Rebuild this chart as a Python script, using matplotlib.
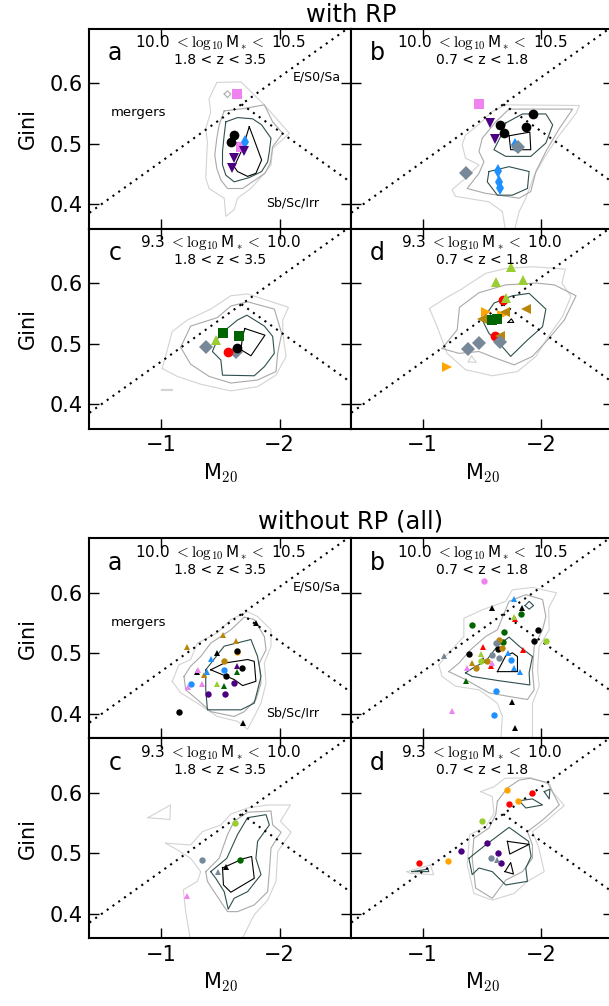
import matplotlib.pyplot as plt

plt.rcParams['mathtext.fontset'] = 'cm'
plt.rcParams['font.family'] = 'DejaVu Sans'

group_titles = ['with RP', 'without RP (all)']
panel_letters = ['a', 'b', 'c', 'd']
mass_bins = [('10.0', '10.5'), ('10.0', '10.5'), ('9.3', '10.0'), ('9.3', '10.0')]
z_bins = [('1.8', '3.5'), ('0.7', '1.8'), ('1.8', '3.5'), ('0.7', '1.8')]
x_ticks = [-1, -2]
y_ticks = [0.4, 0.5, 0.6]

# Lotz et al. lines, G = slope * M20 + icpt
merger_line = (-0.14, 0.33)
early_line = (0.14, 0.80)

# ---------------- with RP ----------------
# contour loops for the 4 levels (outer -> inner), (M20, Gini)
rp_a_light = [[(-1.471, 0.601), (-1.674, 0.602), (-1.871, 0.564), (-2.082, 0.517), (-1.941, 0.492),
               (-1.927, 0.465), (-1.871, 0.451), (-1.758, 0.426), (-1.645, 0.410), (-1.617, 0.391),
               (-1.547, 0.380), (-1.533, 0.410), (-1.406, 0.426), (-1.378, 0.443), (-1.392, 0.503),
               (-1.378, 0.525), (-1.420, 0.552), (-1.406, 0.574)]]
rp_a_gray = [[(-1.533, 0.554), (-1.702, 0.558), (-1.871, 0.564), (-1.941, 0.536), (-2.026, 0.517),
              (-1.941, 0.495), (-1.921, 0.468), (-1.876, 0.451), (-1.786, 0.439), (-1.688, 0.426),
              (-1.561, 0.426), (-1.505, 0.440), (-1.471, 0.459), (-1.454, 0.481), (-1.471, 0.509),
              (-1.491, 0.531)],
             [(-1.533, 0.582), (-1.561, 0.587), (-1.589, 0.582), (-1.561, 0.576)]]
rp_a_dark = [[(-1.547, 0.536), (-1.645, 0.543), (-1.772, 0.541), (-1.848, 0.531), (-1.927, 0.509),
              (-1.913, 0.487), (-1.899, 0.470), (-1.848, 0.454), (-1.744, 0.444), (-1.617, 0.437),
              (-1.547, 0.448), (-1.519, 0.465), (-1.519, 0.487), (-1.533, 0.514)]]
rp_a_black = [[(-1.744, 0.528), (-1.786, 0.506), (-1.848, 0.473), (-1.800, 0.451), (-1.730, 0.446),
               (-1.645, 0.454), (-1.617, 0.462), (-1.688, 0.492)]]
rp_a_pts = [('vi_sq', -1.64, 0.582), ('vi_sq', -1.674, 0.494), ('k_o', -1.617, 0.514),
            ('k_o', -1.589, 0.502), ('db_d', -1.71, 0.502), ('in_v', -1.696, 0.488),
            ('in_v', -1.612, 0.476), ('in_v', -1.595, 0.460)]

rp_b_light = [[(-1.699, 0.564), (-2.319, 0.563), (-2.291, 0.550), (-2.150, 0.514), (-2.037, 0.481),
               (-1.939, 0.448), (-1.868, 0.410), (-1.812, 0.388), (-1.770, 0.355), (-1.699, 0.355),
               (-1.671, 0.388), (-1.558, 0.404), (-1.277, 0.413), (-1.248, 0.424), (-1.361, 0.443),
               (-1.474, 0.465), (-1.361, 0.476), (-1.333, 0.498), (-1.361, 0.514), (-1.474, 0.532),
               (-1.586, 0.553)]]
rp_b_gray = [[(-1.727, 0.557), (-2.262, 0.557), (-2.150, 0.525), (-2.037, 0.487), (-1.953, 0.454),
              (-1.910, 0.421), (-1.812, 0.410), (-1.530, 0.418), (-1.375, 0.426), (-1.474, 0.451),
              (-1.516, 0.470), (-1.474, 0.487), (-1.502, 0.509), (-1.615, 0.536)]]
rp_b_dark = [[(-1.699, 0.534), (-1.840, 0.549), (-2.037, 0.549), (-2.094, 0.531), (-2.037, 0.501),
              (-1.910, 0.479), (-1.699, 0.479), (-1.600, 0.490), (-1.657, 0.512)],
             [(-1.558, 0.454), (-1.727, 0.462), (-1.896, 0.454), (-1.882, 0.426), (-1.755, 0.415),
              (-1.629, 0.415), (-1.544, 0.437)]]
rp_b_black = [[(-1.727, 0.513), (-1.902, 0.519), (-1.910, 0.490), (-1.741, 0.490)]]
rp_b_pts = [('vi_sq', -1.474, 0.565), ('k_o', -1.93, 0.549), ('k_o', -1.648, 0.531),
            ('k_o', -1.868, 0.528), ('k_o', -1.685, 0.517), ('in_v', -1.564, 0.534),
            ('in_v', -1.609, 0.508), ('db_d', -1.778, 0.497), ('db_d', -1.637, 0.455),
            ('db_d', -1.645, 0.437), ('db_d', -1.648, 0.427), ('sg_D', -1.806, 0.495),
            ('sg_D', -1.361, 0.451)]

rp_c_light = [[(-1.012, 0.459), (-1.096, 0.520), (-1.223, 0.539), (-1.420, 0.557), (-1.589, 0.579),
               (-1.730, 0.582), (-2.074, 0.560), (-2.026, 0.539), (-2.026, 0.517), (-2.054, 0.479),
               (-1.969, 0.448), (-1.814, 0.429), (-1.589, 0.422), (-1.336, 0.433), (-1.138, 0.446)],
              [(-0.998, 0.425), (-1.096, 0.425), (-1.096, 0.424), (-0.998, 0.424)]]
rp_c_gray = [[(-1.167, 0.494), (-1.251, 0.529), (-1.476, 0.543), (-1.589, 0.562), (-1.730, 0.569),
              (-1.955, 0.557), (-2.017, 0.517), (-1.983, 0.484), (-1.969, 0.454), (-1.814, 0.440),
              (-1.589, 0.435), (-1.406, 0.446), (-1.251, 0.466)]]
rp_c_dark = [[(-1.491, 0.514), (-1.645, 0.539), (-1.724, 0.547), (-1.871, 0.529), (-1.941, 0.512),
              (-1.955, 0.484), (-1.871, 0.462), (-1.786, 0.447), (-1.519, 0.448), (-1.505, 0.473),
              (-1.434, 0.487)]]
rp_c_black = [[(-1.707, 0.525), (-1.876, 0.514), (-1.758, 0.480), (-1.674, 0.490), (-1.688, 0.512)]]
rp_c_pts = [('dg_sq', -1.519, 0.517), ('dg_sq', -1.654, 0.513), ('yg_^', -1.462, 0.506),
            ('sg_D', -1.378, 0.495), ('sg_D', -1.631, 0.487), ('r_o', -1.561, 0.487),
            ('k_o', -1.637, 0.493)]

rp_d_light = [[(-1.057, 0.558), (-1.192, 0.575), (-1.319, 0.589), (-1.530, 0.616), (-1.699, 0.624),
               (-1.924, 0.627), (-2.200, 0.623), (-2.172, 0.600), (-2.248, 0.578), (-2.178, 0.545),
               (-2.065, 0.514), (-1.953, 0.479), (-1.798, 0.454), (-1.586, 0.447), (-1.361, 0.457),
               (-1.206, 0.484), (-1.122, 0.528)],
              [(-1.384, 0.470), (-1.412, 0.480), (-1.451, 0.469)]]
rp_d_gray = [[(-1.164, 0.492), (-1.291, 0.523), (-1.310, 0.560), (-1.474, 0.584), (-1.699, 0.597),
              (-1.953, 0.600), (-2.108, 0.597), (-2.291, 0.579), (-2.192, 0.539), (-2.051, 0.506),
              (-1.924, 0.479), (-1.770, 0.465), (-1.615, 0.476), (-1.474, 0.487), (-1.305, 0.484)]]
rp_d_dark = [[(-1.502, 0.539), (-1.601, 0.567), (-1.755, 0.579), (-1.896, 0.583), (-2.037, 0.557),
              (-2.009, 0.528), (-1.882, 0.506), (-1.741, 0.479), (-1.643, 0.501), (-1.558, 0.517)]]
rp_d_black = [[(-1.719, 0.535), (-1.747, 0.541), (-1.767, 0.535)]]
rp_d_pts = [('yg_^', -1.741, 0.627), ('yg_^', -1.62, 0.602), ('yg_^', -1.848, 0.605),
            ('r_o', -1.677, 0.572), ('yg_^', -1.699, 0.575), ('r_o', -1.606, 0.512),
            ('or_>', -1.53, 0.553), ('or_>', -1.665, 0.548), ('or_>', -1.206, 0.461),
            ('gd_<', -1.693, 0.553), ('gd_<', -1.868, 0.558), ('gd_<', -1.502, 0.540),
            ('gd_<', -1.648, 0.513), ('dg_sq', -1.586, 0.539), ('dg_sq', -1.629, 0.540),
            ('sg_D', -1.474, 0.501), ('sg_D', -1.384, 0.491), ('sg_D', -1.648, 0.503)]

# ---------------- without RP (all) ----------------
all_a_light = [[(-1.096, 0.454), (-1.152, 0.481), (-1.251, 0.490), (-1.307, 0.517), (-1.476, 0.534),
                (-1.589, 0.556), (-1.730, 0.569), (-1.814, 0.561), (-1.927, 0.539), (-1.927, 0.512),
                (-1.871, 0.484), (-1.885, 0.451), (-1.843, 0.418), (-1.786, 0.396), (-1.730, 0.375),
                (-1.645, 0.388), (-1.476, 0.396), (-1.307, 0.418), (-1.167, 0.435)]]
all_a_gray = [[(-1.195, 0.462), (-1.251, 0.479), (-1.336, 0.495), (-1.420, 0.517), (-1.589, 0.539),
               (-1.702, 0.560), (-1.786, 0.556), (-1.871, 0.528), (-1.885, 0.506), (-1.828, 0.484),
               (-1.843, 0.451), (-1.800, 0.424), (-1.702, 0.404), (-1.617, 0.396), (-1.420, 0.404),
               (-1.307, 0.424), (-1.209, 0.440)]]
all_a_dark = [[(-1.378, 0.473), (-1.533, 0.512), (-1.758, 0.523), (-1.814, 0.495), (-1.843, 0.462),
               (-1.786, 0.418), (-1.674, 0.407), (-1.392, 0.407), (-1.378, 0.440)]]
all_a_black = [[(-1.420, 0.473), (-1.533, 0.484), (-1.730, 0.490), (-1.786, 0.487), (-1.800, 0.454),
                (-1.688, 0.447), (-1.617, 0.457)]]
all_a_pts = [('gd_^', -1.223, 0.510), ('gd_^', -1.519, 0.531), ('gd_^', -1.631, 0.520),
             ('gd_^', -1.364, 0.465), ('gd_o', -1.533, 0.488), ('or_o', -1.637, 0.502),
             ('k_o', -1.640, 0.504), ('k_^', -1.80, 0.551), ('k_^', -1.476, 0.501),
             ('k_^', -1.307, 0.470), ('k_^', -1.688, 0.386), ('k_o', -1.679, 0.476),
             ('k_o', -1.547, 0.462), ('k_o', -1.152, 0.403), ('db_^', -1.420, 0.491),
             ('db_^', -1.392, 0.470), ('db_o', -1.251, 0.450), ('db_o', -1.533, 0.473),
             ('vi_^', -1.313, 0.473), ('vi_^', -1.350, 0.450), ('vi_^', -1.229, 0.444),
             ('in_o', -1.617, 0.451), ('in_o', -1.398, 0.433), ('in_o', -1.538, 0.433),
             ('in_^', -1.637, 0.480), ('dg_^', -1.637, 0.470), ('dg_^', -1.533, 0.446),
             ('yg_^', -1.476, 0.450)]

all_b_light = [[(-1.136, 0.481), (-1.192, 0.495), (-1.347, 0.528), (-1.347, 0.558), (-1.502, 0.572),
                (-1.699, 0.586), (-1.755, 0.605), (-1.924, 0.609), (-2.127, 0.600), (-2.060, 0.575),
                (-2.065, 0.539), (-1.981, 0.512), (-1.967, 0.473), (-1.981, 0.446), (-1.924, 0.418),
                (-1.924, 0.355), (-1.657, 0.355), (-1.671, 0.396), (-1.629, 0.418), (-1.474, 0.440),
                (-1.277, 0.446), (-1.164, 0.462)]]
all_b_gray = [[(-1.220, 0.470), (-1.305, 0.484), (-1.403, 0.506), (-1.530, 0.528), (-1.629, 0.539),
               (-1.727, 0.586), (-1.868, 0.597), (-2.009, 0.589), (-2.037, 0.561), (-2.009, 0.539),
               (-1.939, 0.512), (-1.924, 0.473), (-1.938, 0.440), (-1.882, 0.424), (-1.727, 0.429),
               (-1.558, 0.435), (-1.361, 0.457)]]
all_b_dark = [[(-1.361, 0.468), (-1.431, 0.477), (-1.530, 0.487), (-1.629, 0.512), (-1.727, 0.527),
               (-1.812, 0.512), (-1.924, 0.495), (-1.896, 0.468), (-1.902, 0.448), (-1.643, 0.455),
               (-1.417, 0.462)],
              [(-1.862, 0.579), (-1.896, 0.586), (-1.933, 0.579), (-1.896, 0.573)]]
all_b_black = [[(-1.629, 0.470), (-1.699, 0.496), (-1.755, 0.501), (-1.798, 0.495), (-1.798, 0.470)]]
all_b_pts = [('vi_o', -1.516, 0.620), ('db_^', -1.77, 0.590), ('k_^', -1.586, 0.575),
             ('k_^', -1.832, 0.575), ('k_^', -1.508, 0.490), ('k_^', -1.755, 0.420),
             ('k_^', -1.778, 0.377), ('dg_o', -1.826, 0.565), ('dg_o', -1.417, 0.547),
             ('dg_o', -1.685, 0.535), ('dg_o', -1.68, 0.519), ('r_^', -1.775, 0.557),
             ('r_^', -1.51, 0.510), ('r_^', -1.848, 0.505), ('r_^', -1.572, 0.480),
             ('yg_^', -1.77, 0.560), ('yg_^', -1.488, 0.499), ('k_o', -1.967, 0.539),
             ('k_o', -1.938, 0.521), ('k_o', -1.389, 0.499), ('k_o', -1.637, 0.508),
             ('yg_o', -2.037, 0.521), ('yg_o', -1.488, 0.487), ('gd_o', -1.643, 0.523),
             ('gd_o', -1.671, 0.509), ('gd_o', -1.451, 0.476), ('gd_o', -1.539, 0.487),
             ('gd_^', -1.412, 0.485), ('sg_o', -1.615, 0.517), ('sg_o', -1.581, 0.498),
             ('sg_o', -1.643, 0.493), ('sg_^', -1.184, 0.495), ('db_o', -1.741, 0.490),
             ('db_o', -1.615, 0.438), ('db_o', -1.601, 0.398), ('db_^', -1.722, 0.501),
             ('db_^', -1.77, 0.476), ('db_^', -1.817, 0.470), ('vi_^', -1.37, 0.476),
             ('vi_^', -1.586, 0.485), ('vi_^', -1.248, 0.405), ('dg_^', -1.367, 0.455)]

all_c_light = [[(-0.891, 0.559), (-1.082, 0.580), (-1.076, 0.556)],
               [(-1.040, 0.517), (-1.251, 0.514), (-1.350, 0.536), (-1.505, 0.547), (-1.589, 0.565),
                (-1.730, 0.575), (-1.899, 0.580), (-2.090, 0.580), (-2.006, 0.553), (-2.096, 0.535),
                (-1.983, 0.503), (-1.969, 0.454), (-1.899, 0.423), (-1.786, 0.399), (-1.674, 0.355),
                (-1.251, 0.355), (-1.209, 0.404), (-1.189, 0.440), (-1.307, 0.454), (-1.336, 0.470),
                (-1.251, 0.492), (-1.138, 0.506)]]
all_c_gray = [[(-1.378, 0.470), (-1.491, 0.492), (-1.561, 0.531), (-1.617, 0.553), (-1.730, 0.568),
               (-1.927, 0.570), (-1.941, 0.547), (-2.012, 0.535), (-1.927, 0.509), (-1.913, 0.470),
               (-1.899, 0.437), (-1.786, 0.415), (-1.645, 0.404), (-1.561, 0.404), (-1.448, 0.437),
               (-1.392, 0.454)]]
all_c_dark = [[(-1.420, 0.470), (-1.555, 0.492), (-1.645, 0.531), (-1.730, 0.559), (-1.885, 0.564),
               (-1.913, 0.547), (-1.814, 0.520), (-1.800, 0.492), (-1.843, 0.465), (-1.730, 0.437),
               (-1.617, 0.426), (-1.567, 0.408), (-1.533, 0.437), (-1.462, 0.459)]]
all_c_black = [[(-1.519, 0.476), (-1.688, 0.491), (-1.764, 0.495), (-1.786, 0.459), (-1.589, 0.436),
                (-1.527, 0.448)]]
all_c_pts = [('yg_o', -1.626, 0.550), ('sg_o', -1.35, 0.489), ('dg_o', -1.665, 0.489),
             ('k_^', -1.547, 0.478), ('sg_^', -1.482, 0.470), ('vi_^', -1.223, 0.429)]

all_d_light = [[(-1.488, 0.602), (-1.600, 0.610), (-1.693, 0.624), (-1.910, 0.625), (-2.071, 0.614),
                (-2.093, 0.602), (-2.192, 0.579), (-2.037, 0.553), (-1.924, 0.536), (-1.975, 0.511),
                (-2.023, 0.470), (-1.882, 0.454), (-1.770, 0.434), (-1.586, 0.423), (-1.432, 0.434),
                (-1.375, 0.481), (-1.395, 0.531), (-1.530, 0.544), (-1.600, 0.566), (-1.586, 0.594)],
               [(-0.868, 0.470), (-1.065, 0.481), (-1.093, 0.465), (-0.896, 0.467)]]
all_d_gray = [[(-1.629, 0.586), (-1.713, 0.608), (-1.812, 0.621), (-1.902, 0.624), (-2.051, 0.617),
               (-2.150, 0.580), (-2.009, 0.555), (-1.882, 0.536), (-1.924, 0.514), (-1.924, 0.492),
               (-1.840, 0.470), (-1.699, 0.456), (-1.586, 0.426), (-1.446, 0.443), (-1.417, 0.492),
               (-1.431, 0.525), (-1.558, 0.542), (-1.615, 0.564)]]
all_d_dark = [[(-1.812, 0.587), (-1.924, 0.590), (-2.009, 0.580), (-1.868, 0.575)],
              [(-2.023, 0.602), (-2.071, 0.606), (-2.065, 0.590)],
              [(-1.389, 0.492), (-1.530, 0.514), (-1.727, 0.543), (-1.891, 0.520), (-1.913, 0.495),
               (-1.868, 0.476), (-1.882, 0.454), (-1.699, 0.448), (-1.586, 0.470), (-1.474, 0.476),
               (-1.417, 0.465)],
              [(-0.910, 0.470), (-1.046, 0.474), (-1.051, 0.470)]]
all_d_black = [[(-1.713, 0.520), (-1.896, 0.515), (-1.733, 0.499)],
               [(-1.693, 0.470), (-1.741, 0.485), (-1.764, 0.466)]]
all_d_pts = [('or_o', -1.708, 0.605), ('or_o', -1.801, 0.586), ('or_o', -1.215, 0.488),
             ('r_o', -1.919, 0.600), ('r_o', -1.724, 0.581), ('r_o', -0.971, 0.484),
             ('yg_o', -1.502, 0.554), ('in_o', -1.544, 0.517), ('in_o', -1.327, 0.504),
             ('in_o', -1.634, 0.501), ('in_o', -1.663, 0.485), ('sg_o', -1.572, 0.492),
             ('sg_^', -1.629, 0.489)]

# marker shape / colour for each object class
STYLE = {
    'k_o': ('o', 'black'), 'k_^': ('^', 'black'),
    'vi_sq': ('s', 'violet'), 'vi_o': ('o', 'violet'), 'vi_^': ('^', 'violet'),
    'db_d': ('d', 'dodgerblue'), 'db_o': ('o', 'dodgerblue'), 'db_^': ('^', 'dodgerblue'),
    'in_v': ('v', 'indigo'), 'in_o': ('o', 'indigo'), 'in_^': ('^', 'indigo'),
    'sg_D': ('D', 'lightslategray'), 'sg_o': ('o', 'lightslategray'), 'sg_^': ('^', 'lightslategray'),
    'dg_sq': ('s', 'darkgreen'), 'dg_o': ('o', 'darkgreen'), 'dg_^': ('^', 'darkgreen'),
    'yg_^': ('^', 'yellowgreen'), 'yg_o': ('o', 'yellowgreen'),
    'r_o': ('o', 'red'), 'r_^': ('^', 'red'),
    'or_>': ('>', 'orange'), 'or_o': ('o', 'orange'),
    'gd_<': ('<', 'darkgoldenrod'), 'gd_^': ('^', 'darkgoldenrod'), 'gd_o': ('o', 'darkgoldenrod'),
}
level_colors = ['lightgray', 'darkgray', 'darkslategray', 'black']

groups = [
    [(rp_a_light, rp_a_gray, rp_a_dark, rp_a_black, rp_a_pts),
     (rp_b_light, rp_b_gray, rp_b_dark, rp_b_black, rp_b_pts),
     (rp_c_light, rp_c_gray, rp_c_dark, rp_c_black, rp_c_pts),
     (rp_d_light, rp_d_gray, rp_d_dark, rp_d_black, rp_d_pts)],
    [(all_a_light, all_a_gray, all_a_dark, all_a_black, all_a_pts),
     (all_b_light, all_b_gray, all_b_dark, all_b_black, all_b_pts),
     (all_c_light, all_c_gray, all_c_dark, all_c_black, all_c_pts),
     (all_d_light, all_d_gray, all_d_dark, all_d_black, all_d_pts)],
]

W, H = 609, 1006
fig = plt.figure(figsize=(W / 100, H / 100), dpi=100)

col_left = [89.5, 351.3]
col_w = 261.5
row_top = [[28.5, 228.5], [538.3, 738.3]]
row_h = 200
msize = [7, 4.6]

for gi, panels in enumerate(groups):
    for pi, (light, gray, dark, black, pts) in enumerate(panels):
        r, c = pi // 2, pi % 2
        ax = fig.add_axes([col_left[c] / W, 1 - (row_top[gi][r] + row_h) / H, col_w / W, row_h / H])
        for level, loops in enumerate([light, gray, dark, black]):
            for loop in loops:
                xs = [p[0] for p in loop] + [loop[0][0]]
                ys = [p[1] for p in loop] + [loop[0][1]]
                ax.plot(xs, ys, color=level_colors[level], lw=0.8, zorder=1 + level * 0.1)
        # classification lines
        x0 = (early_line[1] - merger_line[1]) / (merger_line[0] - early_line[0])
        ax.plot([-0.4, -2.6], [merger_line[0] * -0.4 + merger_line[1], merger_line[0] * -2.6 + merger_line[1]],
                color='black', ls=(0, (1, 2.4)), lw=1.5, zorder=2)
        ax.plot([x0, -2.6], [early_line[0] * x0 + early_line[1], early_line[0] * -2.6 + early_line[1]],
                color='black', ls=(0, (1, 2.4)), lw=1.5, zorder=2)
        for cat, m, g in pts:
            mk, col = STYLE[cat]
            ax.plot(m, g, marker=mk, color=col, ms=msize[gi], mew=0, ls='none', zorder=3)

        ax.set_xlim(-0.4, -2.6)
        ax.set_ylim(0.36, 0.69)
        ax.set_xticks(x_ticks)
        ax.set_yticks(y_ticks)
        ax.tick_params(direction='in', top=True, right=True, length=7, width=1, labelsize=15, pad=5)
        for s in ax.spines.values():
            s.set_linewidth(1.5)
        if c == 1:
            ax.set_yticklabels([])
        else:
            ax.set_ylabel('Gini', fontsize=15, labelpad=8)
        if r == 0:
            ax.set_xticklabels([])
        else:
            ax.set_xticklabels(['\u22121', '\u22122'])
            ax.set_xlabel('M$_{20}$', fontsize=15, labelpad=4)

        ax.text(0.098, 0.875, panel_letters[pi], transform=ax.transAxes, fontsize=17,
                ha='center', va='center')
        lo, hi = mass_bins[pi]
        ax.text(0.5, 0.905, lo + r' $<\log_{10}$M$_*<$ ' + hi, transform=ax.transAxes,
                fontsize=11, ha='center', va='baseline')
        zlo, zhi = z_bins[pi]
        ax.text(0.5, 0.842, zlo + ' < z < ' + zhi, transform=ax.transAxes, fontsize=10,
                ha='center', va='center')
        if pi == 0:
            ax.text(0.187, 0.578, 'mergers', transform=ax.transAxes, fontsize=9.5,
                    ha='center', va='center')
            ax.text(0.868, 0.757, 'E/S0/Sa', transform=ax.transAxes, fontsize=9,
                    ha='center', va='center')
            ax.text(0.778, 0.128, 'Sb/Sc/Irr', transform=ax.transAxes, fontsize=9,
                    ha='center', va='center')

fig.text(351 / W, 1 - 15 / H, group_titles[0], fontsize=17.5, ha='center', va='center')
fig.text(351 / W, 1 - 521 / H, group_titles[1], fontsize=17.5, ha='center', va='center')

fig.savefig('out.png', dpi=100)
